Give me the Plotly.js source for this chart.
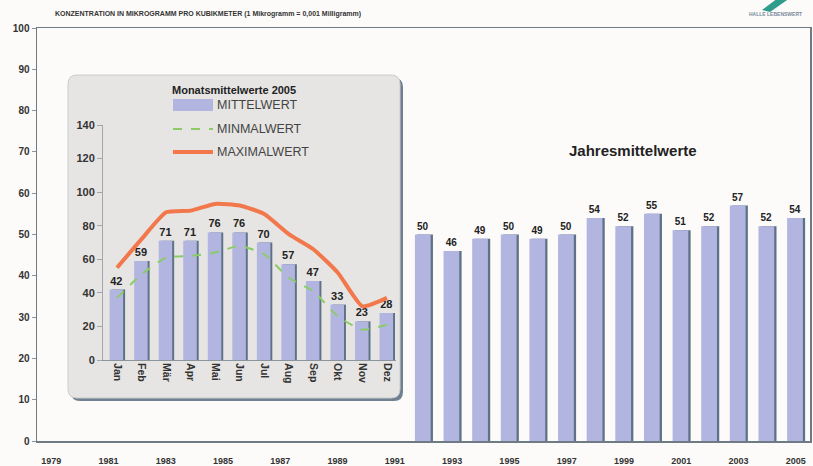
<!DOCTYPE html>
<html>
<head>
<meta charset="utf-8">
<script src="https://cdn.plot.ly/plotly-3.0.1.min.js"></script>
<style>html,body{margin:0;padding:0;background:#fdfbfa;}#chart{width:813px;height:466px;}</style>
</head>
<body>
<div id="chart"></div>
<script>
// ---- data ----
const years = [1992,1993,1994,1995,1996,1997,1998,1999,2000,2001,2002,2003,2004,2005];
const yearlyMean = [50,46,49,50,49,50,54,52,55,51,52,57,52,54];
const yearTicks = [1979,1981,1983,1985,1987,1989,1991,1993,1995,1997,1999,2001,2003,2005];

const months = ["Jan","Feb","Mär","Apr","Mai","Jun","Jul","Aug","Sep","Okt","Nov","Dez"];
const monthMean = [42,59,71,71,76,76,70,57,47,33,23,28];
const monthMin  = [37,51,61,62,64,68,63,49,41,26,18,21];
const monthMax  = [55,72,88,89,93,92,87,75,66,52,32,37];

// ---- helpers (pixel -> paper coordinates of main plot area) ----
const L = 37, T = 28, W = 773, H = 413;
const px = p => (p - L) / W;
const py = p => (T + H - p) / H;
const FONT = "Liberation Sans, Arial, sans-serif";

const barColor = "#b2b5e0";
const shadowColor = "#5d7286";
const maxColor = "#f2784b";
const minColor = "#8ccc68";

const traces = [
  // main yearly bars (shadow + bar)
  {type:"bar", x:years, y:yearlyMean, width:0.55, offset:-0.22, marker:{color:shadowColor},
   hoverinfo:"skip", showlegend:false},
  {type:"bar", x:years, y:yearlyMean, width:0.55, offset:-0.3, marker:{color:barColor},
   text:yearlyMean.map(String), textposition:"outside", cliponaxis:false,
   textfont:{family:FONT, size:10, color:"#222", weight:700}, showlegend:false},
  // inset monthly bars
  {type:"bar", x:months, y:monthMean, width:0.55, offset:-0.22, xaxis:"x2", yaxis:"y2",
   marker:{color:shadowColor}, hoverinfo:"skip", showlegend:false},
  {type:"bar", x:months, y:monthMean, width:0.55, offset:-0.3, xaxis:"x2", yaxis:"y2",
   marker:{color:barColor}, text:monthMean.map(String), textposition:"outside", cliponaxis:false,
   textfont:{family:FONT, size:11, color:"#222", weight:700}, showlegend:false},
  {type:"scatter", mode:"lines", x:months, y:monthMin, xaxis:"x2", yaxis:"y2",
   line:{color:minColor, width:2, dash:"dash", shape:"spline", smoothing:0.5}, showlegend:false},
  {type:"scatter", mode:"lines", x:months, y:monthMax, xaxis:"x2", yaxis:"y2",
   line:{color:maxColor, width:4, shape:"spline", smoothing:0.5}, showlegend:false}
];

// rounded inset box
function roundRect(x0p, y0p, x1p, y1p, r) {
  const x0 = px(x0p), x1 = px(x1p), yt = py(y0p), yb = py(y1p);
  const rx = r / W, ry = r / H;
  return `M${x0+rx},${yt} L${x1-rx},${yt} Q${x1},${yt} ${x1},${yt-ry} L${x1},${yb+ry} Q${x1},${yb} ${x1-rx},${yb} ` +
         `L${x0+rx},${yb} Q${x0},${yb} ${x0},${yb+ry} L${x0},${yt-ry} Q${x0},${yt} ${x0+rx},${yt} Z`;
}

const shapes = [
  {type:"path", xref:"paper", yref:"paper", path:roundRect(71, 78, 403, 401, 9), layer:"below",
   fillcolor:"#6f8090", line:{width:0}},
  {type:"path", xref:"paper", yref:"paper", path:roundRect(68, 75, 400, 398, 9), layer:"below",
   fillcolor:"#e6e5e3", line:{color:"#c9cccf", width:1}},
  // legend swatches
  {type:"rect", xref:"paper", yref:"paper", x0:px(173), x1:px(213), y0:py(111), y1:py(99),
   fillcolor:barColor, line:{width:0}},
  {type:"line", xref:"paper", yref:"paper", x0:px(173), x1:px(213), y0:py(129), y1:py(129),
   line:{color:minColor, width:2, dash:"dash"}},
  {type:"line", xref:"paper", yref:"paper", x0:px(173), x1:px(213), y0:py(152), y1:py(152),
   line:{color:maxColor, width:4}},
  // logo mark
  {type:"path", xref:"paper", yref:"paper",
   path:`M${px(762)},${py(10)} L${px(778)},${py(-2)} L${px(790)},${py(-2)} L${px(770)},${py(12)} Z`,
   fillcolor:"#2f9c8c", line:{width:0}}
];

const annotations = [
  {xref:"paper", yref:"paper", x:px(53), y:py(14), xanchor:"left", yanchor:"middle", showarrow:false,
   text:"KONZENTRATION IN MIKROGRAMM PRO KUBIKMETER (1 Mikrogramm = 0,001 Milligramm)",
   font:{family:FONT, size:7, color:"#333", weight:700}},
  {xref:"paper", yref:"paper", x:px(775), y:py(14), xanchor:"center", yanchor:"middle", showarrow:false,
   text:"HALLE LEBENSWERT", font:{family:FONT, size:5, color:"#7a8a9a", weight:700}},
  {xref:"paper", yref:"paper", x:px(633), y:py(150), xanchor:"center", yanchor:"middle", showarrow:false,
   text:"Jahresmittelwerte", font:{family:FONT, size:15, color:"#222", weight:700}},
  {xref:"paper", yref:"paper", x:px(234), y:py(90), xanchor:"center", yanchor:"middle", showarrow:false,
   text:"Monatsmittelwerte 2005", font:{family:FONT, size:11, color:"#222", weight:700}},
  {xref:"paper", yref:"paper", x:px(215), y:py(105), xanchor:"left", yanchor:"middle", showarrow:false,
   text:"MITTELWERT", font:{family:FONT, size:12.5, color:"#444"}},
  {xref:"paper", yref:"paper", x:px(215), y:py(129), xanchor:"left", yanchor:"middle", showarrow:false,
   text:"MINMALWERT", font:{family:FONT, size:12.5, color:"#444"}},
  {xref:"paper", yref:"paper", x:px(215), y:py(152), xanchor:"left", yanchor:"middle", showarrow:false,
   text:"MAXIMALWERT", font:{family:FONT, size:12.5, color:"#444"}}
];

const layout = {
  width:813, height:466,
  margin:{l:L, r:813-L-W, t:T, b:466-T-H, pad:0},
  paper_bgcolor:"#fdfbfa", plot_bgcolor:"rgba(0,0,0,0)",
  barmode:"overlay", showlegend:false,
  font:{family:FONT, color:"#333"},
  xaxis:{range:[1978.5, 2005.5], tickvals:yearTicks, ticktext:yearTicks.map(String),
         showgrid:false, zeroline:false, showline:true, mirror:true, linecolor:"#6e7a84", linewidth:1.5,
         ticks:"", ticklabelstandoff:11, tickfont:{family:FONT, size:9, color:"#333", weight:700}},
  yaxis:{range:[0,100], dtick:10, showgrid:false, zeroline:false, showline:true, mirror:true,
         linecolor:"#6e7a84", linewidth:1.5, ticks:"outside", ticklen:4, tickcolor:"#8a949c",
         tickfont:{family:FONT, size:10, color:"#333", weight:700}},
  xaxis2:{domain:[px(103), px(396)], anchor:"y2", type:"category", range:[-0.57, 11.37],
          showgrid:false, zeroline:false, showline:true, linecolor:"#8a949c", linewidth:1,
          ticks:"", tickangle:90, tickfont:{family:FONT, size:10.5, color:"#333", weight:700}},
  yaxis2:{domain:[py(360), py(125)], anchor:"x2", range:[0,140], dtick:20,
          showgrid:false, zeroline:false, showline:true, linecolor:"#a0a8ae", linewidth:1,
          ticks:"outside", ticklen:5, tickcolor:"#a0a8ae",
          tickfont:{family:FONT, size:11, color:"#333", weight:700}},
  shapes:shapes, annotations:annotations
};

Plotly.newPlot("chart", traces, layout, {displayModeBar:false, staticPlot:true});
</script>
</body>
</html>
